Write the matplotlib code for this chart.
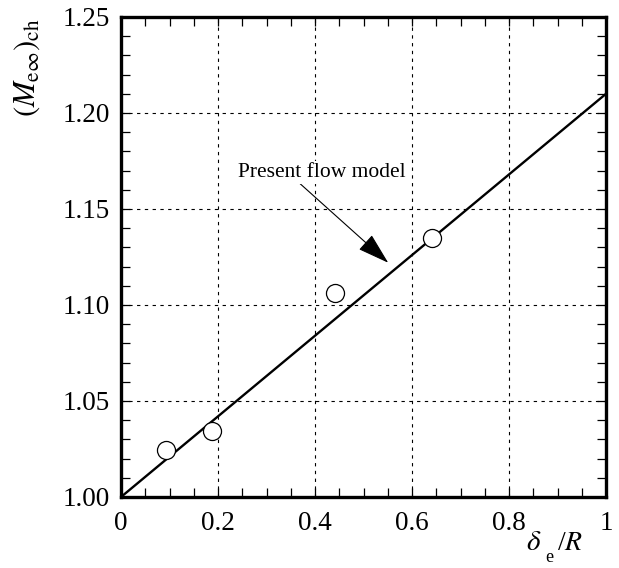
import numpy as np
import matplotlib
matplotlib.use("Agg")
import matplotlib.pyplot as plt
from matplotlib.ticker import MultipleLocator

plt.rcParams['font.family'] = ['Liberation Serif', 'DejaVu Serif']
plt.rcParams['mathtext.fontset'] = 'stix'

# measured points
delta_R = [0.093, 0.188, 0.441, 0.641]
mach_ch = [1.0245, 1.0345, 1.1065, 1.135]

# flow model line
model_x = [0.0, 1.0]
model_y = [1.0, 1.21]

x_ticks = [0, 0.2, 0.4, 0.6, 0.8, 1.0]
x_labels = ['0', '0.2', '0.4', '0.6', '0.8', '1']
y_ticks = [1.00, 1.05, 1.10, 1.15, 1.20, 1.25]
y_labels = ['1.00', '1.05', '1.10', '1.15', '1.20', '1.25']

fig = plt.figure(figsize=(6.19, 5.68), dpi=100)
ax = fig.add_axes([121/619, 1-497/568, 485/619, 480/568])

ax.plot(model_x, model_y, color='black', lw=1.7, zorder=3)
ax.plot(delta_R, mach_ch, 'o', ms=13, mfc='white', mec='black', mew=0.9, zorder=4)

ax.set_xlim(0, 1)
ax.set_ylim(1.0, 1.25)
ax.set_xticks(x_ticks)
ax.set_xticklabels(x_labels)
ax.set_yticks(y_ticks)
ax.set_yticklabels(y_labels)
ax.xaxis.set_minor_locator(MultipleLocator(0.05))
ax.yaxis.set_minor_locator(MultipleLocator(0.01))
ax.tick_params(which='both', direction='in', top=True, right=True,
               length=6.5, width=0.9, labelsize=19.5)
ax.tick_params(axis='x', pad=10)
ax.tick_params(axis='y', pad=8)
ax.grid(True, which='major', color='black', ls=(0, (3, 4)), lw=0.8)
for s in ax.spines.values():
    s.set_linewidth(2.4)

ax.annotate('Present flow model', xy=(0.551, 1.122), xytext=(0.241, 1.169),
            fontsize=15.5, va='center', ha='left',
            bbox=dict(boxstyle='square,pad=0.1', fc='white', ec='none'),
            arrowprops=dict(arrowstyle='-|>,head_length=1.3,head_width=0.4',
                            color='black', lw=0.8, shrinkA=0, shrinkB=0,
                            patchA=None, relpos=(0.36, 0.0)),
            zorder=5)

# y label
fig.text(27/619, 1-18/568, r'$(M_{\mathrm{e}\infty})_{\mathrm{ch}}$', rotation=90,
         ha='center', va='top', fontsize=22)

# x label, built in pieces so the subscript sits low
fig.text(526/619, 1-550/568, r'$\delta$', ha='left', va='baseline', fontsize=21)
fig.text(545/619, 1-562/568, 'e', ha='left', va='baseline', fontsize=13)
fig.text(557/619, 1-550/568, r'/$\mathbf{\mathit{R}}$', ha='left', va='baseline', fontsize=20)

fig.savefig('out.png', dpi=100)
